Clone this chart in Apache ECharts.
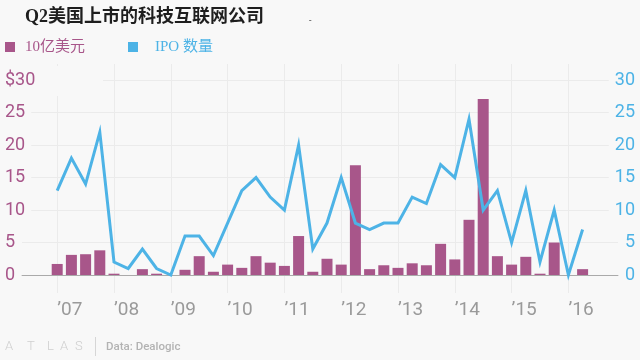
<!DOCTYPE html>
<html>
<head>
<meta charset="utf-8">
<script src="https://cdn.jsdelivr.net/npm/echarts@6/dist/echarts.min.js"></script>
<style>
html,body{margin:0;padding:0;background:#f8f8f8;}
#chart{width:640px;height:360px;}
</style>
</head>
<body>
<div id="chart"></div>
<script>
// Quarterly categories (2007 Q1 – 2016 Q2)
const quarters = [
  '2007 Q1','2007 Q2','2007 Q3','2007 Q4',
  '2008 Q1','2008 Q2','2008 Q3','2008 Q4',
  '2009 Q1','2009 Q2','2009 Q3','2009 Q4',
  '2010 Q1','2010 Q2','2010 Q3','2010 Q4',
  '2011 Q1','2011 Q2','2011 Q3','2011 Q4',
  '2012 Q1','2012 Q2','2012 Q3','2012 Q4',
  '2013 Q1','2013 Q2','2013 Q3','2013 Q4',
  '2014 Q1','2014 Q2','2014 Q3','2014 Q4',
  '2015 Q1','2015 Q2','2015 Q3','2015 Q4',
  '2016 Q1','2016 Q2'
];
// Amount raised, US$ billions (10亿美元)
const valueBn = [
  1.7, 3.1, 3.2, 3.8,
  0.2, 0, 0.9, 0.2,
  0, 0.8, 2.9, 0.5,
  1.6, 1.1, 2.9, 1.9,
  1.4, 6.0, 0.5, 2.5,
  1.6, 16.9, 0.9, 1.5,
  1.1, 1.8, 1.5, 4.8,
  2.4, 8.5, 27.1, 2.9,
  1.6, 2.8, 0.2, 5.0,
  0, 0.9
];
// Number of IPOs (IPO 数量)
const ipoCount = [
  13, 18, 14, 22,
  2, 1, 4, 1,
  0, 6, 6, 3,
  8, 13, 15, 12,
  10, 20, 4, 8,
  15, 8, 7, 8,
  8, 12, 11, 17,
  15, 24, 10, 13,
  5, 13, 2, 10,
  0, 7
];
const yearLabels = ['’07','’08','’09','’10','’11','’12','’13','’14','’15','’16'];
const leftTicks = [0, 5, 10, 15, 20, 25, 30];
const rightTicks = [0, 5, 10, 15, 20, 25, 30];
const gridTicks = [5, 10, 15, 20, 25, 30];

const BG = '#f8f8f8';
const MAG = '#a8568a';
const BLUE = '#4db3e6';
const GRID = '#ebebeb';

// first quarter of every year gets a gridline + label
const yearTickIdx = quarters.map((q, i) => q.endsWith('Q1') ? i : -1).filter(i => i >= 0);

const yMin = -2.772, yMax = 32.495;
const xMin = -2.479, xMax = 39.493;

const chart = echarts.init(document.getElementById('chart'), null, {renderer: 'canvas'});

const option = {
  backgroundColor: BG,
  animation: false,
  grid: {left: 22, right: 22, top: 64, bottom: 67, containLabel: false},
  xAxis: {
    type: 'value', min: xMin, max: xMax,
    axisLine: {show: true, onZero: true, lineStyle: {color: '#aaaaaa', width: 1}},
    axisTick: {show: false, customValues: yearTickIdx},
    axisLabel: {
      customValues: yearTickIdx,
      formatter: v => yearLabels[yearTickIdx.indexOf(v)],
      color: '#9a9a9a', fontSize: 19, fontFamily: 'Roboto', align: 'left', margin: 8
    },
    splitLine: {show: true, lineStyle: {color: GRID, width: 1}}
  },
  yAxis: [
    {
      type: 'value', min: yMin, max: yMax, position: 'left', z: 3,
      axisLine: {show: false},
      axisTick: {show: false, customValues: leftTicks},
      splitLine: {show: false},
      axisLabel: {
        customValues: leftTicks,
        formatter: v => (v === 30 ? '$30' : String(v)),
        color: MAG, fontSize: 18, fontFamily: 'Roboto', align: 'left', margin: 17,
        backgroundColor: BG, padding: [0, 6, 0, 0]
      }
    },
    {
      type: 'value', min: yMin, max: yMax, position: 'right', z: 3,
      axisLine: {show: false},
      axisTick: {show: false, customValues: rightTicks},
      splitLine: {show: false},
      axisLabel: {
        customValues: rightTicks,
        formatter: v => String(v),
        color: BLUE, fontSize: 18, fontFamily: 'Roboto', align: 'right', margin: 17,
        backgroundColor: BG, padding: [0, 0, 0, 6]
      }
    },
    {
      type: 'value', min: yMin, max: yMax, position: 'left', z: 0,
      axisLine: {show: false},
      axisTick: {show: false, customValues: gridTicks},
      axisLabel: {show: false, customValues: gridTicks},
      splitLine: {show: true, lineStyle: {color: GRID, width: 1}}
    }
  ],
  series: [
    {
      name: '10亿美元', type: 'bar', xAxisIndex: 0, yAxisIndex: 0,
      data: valueBn.map((v, i) => [i, v]),
      barWidth: 11,
      itemStyle: {color: MAG},
      z: 2
    },
    {
      name: 'IPO 数量', type: 'line', xAxisIndex: 0, yAxisIndex: 1,
      data: ipoCount.map((v, i) => [i, v]),
      symbol: 'none', showSymbol: false,
      lineStyle: {color: BLUE, width: 3, join: 'miter'},
      z: 4
    }
  ],
  graphic: [
    {type: 'rect', z: 1, shape: {x: 38, y: 66, width: 65, height: 30}, style: {fill: BG}},
    {type: 'text', x: 25, y: 17, z: 5, style: {text: 'Q2美国上市的科技互联网公司', fill: '#1e1e1e',
      font: 'bold 18px "Liberation Serif", "Noto Sans CJK SC"', verticalAlign: 'middle'}},
    {type: 'text', x: 309, y: 21, z: 5, style: {text: '-', fill: '#444', font: '9px Roboto', verticalAlign: 'middle'}},
    {type: 'rect', z: 5, shape: {x: 5, y: 42, width: 10, height: 10}, style: {fill: MAG}},
    {type: 'text', x: 25, y: 47, z: 5, style: {text: '10亿美元', fill: MAG,
      font: '15px "Liberation Serif", "Noto Sans CJK SC"', verticalAlign: 'middle'}},
    {type: 'rect', z: 5, shape: {x: 128, y: 42, width: 10, height: 10}, style: {fill: BLUE}},
    {type: 'text', x: 155, y: 47, z: 5, style: {text: 'IPO 数量', fill: BLUE,
      font: '15px "Liberation Serif", "Noto Sans CJK SC"', verticalAlign: 'middle'}},
    {type: 'text', x: 5, y: 347, z: 5, style: {text: 'A', fill: '#cfcfcf', font: '300 13px Roboto', verticalAlign: 'middle'}},
    {type: 'text', x: 27, y: 347, z: 5, style: {text: 'T', fill: '#cfcfcf', font: '300 13px Roboto', verticalAlign: 'middle'}},
    {type: 'text', x: 47, y: 347, z: 5, style: {text: 'L', fill: '#cfcfcf', font: '300 13px Roboto', verticalAlign: 'middle'}},
    {type: 'text', x: 60, y: 347, z: 5, style: {text: 'A', fill: '#cfcfcf', font: '300 13px Roboto', verticalAlign: 'middle'}},
    {type: 'text', x: 75, y: 347, z: 5, style: {text: 'S', fill: '#cfcfcf', font: '300 13px Roboto', verticalAlign: 'middle'}},
    {type: 'line', z: 5, shape: {x1: 95.5, y1: 337, x2: 95.5, y2: 356}, style: {stroke: '#d6d6d6', lineWidth: 1}},
    {type: 'text', x: 106, y: 347, z: 5, style: {text: 'Data: Dealogic', fill: '#b3b3b3', font: '500 11.5px Roboto', verticalAlign: 'middle'}}
  ]
};
chart.setOption(option);
</script>
</body>
</html>
